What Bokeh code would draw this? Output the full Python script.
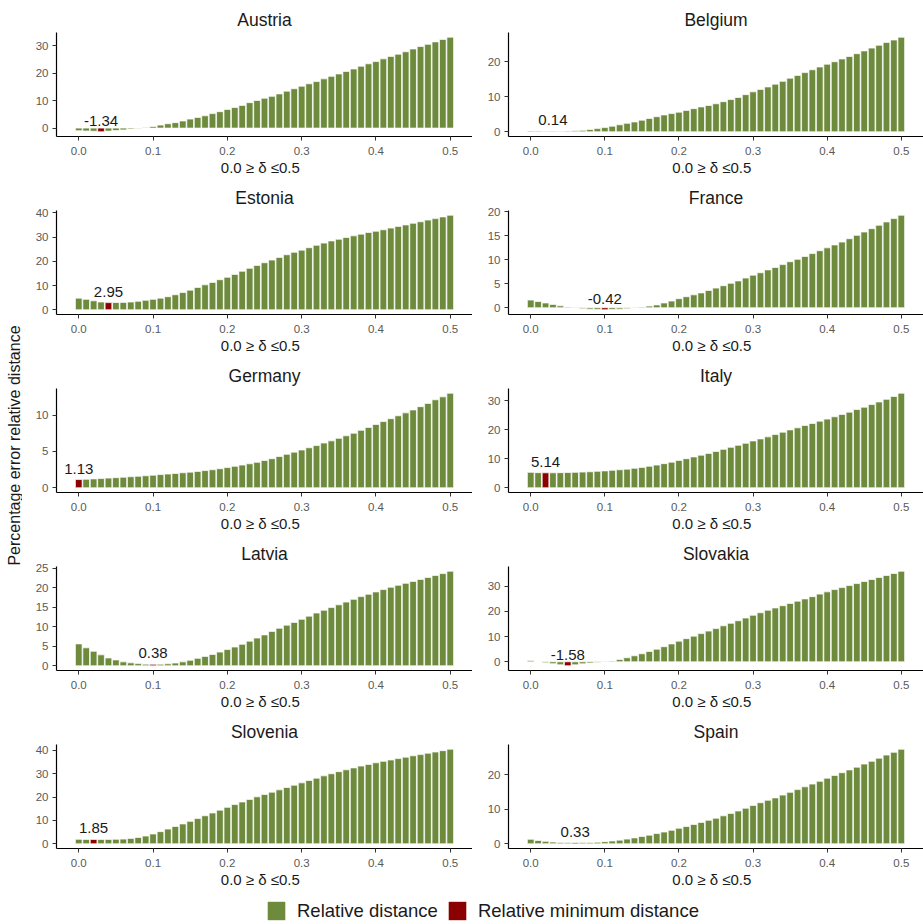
from bokeh.plotting import figure
from bokeh.models import Range1d, FixedTicker, Label, Legend, LegendItem, PrintfTickFormatter
from bokeh.layouts import column, row
from bokeh.embed import file_html
from bokeh.resources import INLINE

FONT = "Liberation Sans"
GREEN = "#6E8B3D"
RED = "#8B0000"

# delta grid (x categories)
delta = [i / 100 for i in range(51)]
xticks = [0.0, 0.1, 0.2, 0.3, 0.4, 0.5]

countries = ["Austria", "Belgium", "Estonia", "France", "Germany",
             "Italy", "Latvia", "Slovakia", "Slovenia", "Spain"]

austria = [-0.95, -1.05, -1.15, -1.34, -1.1, -0.9, -0.65, -0.35, -0.1, 0.25,
           0.6, 1.1, 1.6, 2.0, 2.6, 3.3, 3.9, 4.5, 5.3, 6.0,
           6.8, 7.5, 8.3, 9.3, 10.1, 10.9, 11.6, 12.5, 13.5, 14.4,
           15.3, 16.2, 17.0, 18.0, 18.9, 19.8, 20.7, 21.6, 22.6, 23.5,
           24.3, 25.3, 26.2, 27.0, 27.9, 28.9, 29.8, 30.6, 31.5, 32.4, 33.2]
belgium = [0.25, 0.2, 0.17, 0.14, 0.15, 0.2, 0.28, 0.4, 0.65, 0.9,
           1.2, 1.6, 2.0, 2.4, 2.8, 3.3, 3.8, 4.3, 4.8, 5.2,
           5.6, 6.1, 6.6, 7.1, 7.5, 8.0, 8.6, 9.2, 9.8, 10.6,
           11.4, 12.1, 12.8, 13.6, 14.4, 15.3, 16.1, 16.9, 17.7, 18.5,
           19.3, 20.0, 20.8, 21.5, 22.3, 23.1, 23.9, 24.7, 25.5, 26.2, 27.0]
estonia = [4.8, 4.3, 3.7, 3.2, 2.95, 3.0, 3.05, 3.2, 3.5, 3.9,
           4.3, 4.8, 5.4, 6.2, 7.1, 8.1, 9.2, 10.3, 11.3, 12.4,
           13.4, 14.6, 15.9, 17.1, 18.3, 19.4, 20.5, 21.6, 22.7, 23.7,
           24.6, 25.6, 26.6, 27.5, 28.4, 29.1, 29.8, 30.5, 31.2, 31.9,
           32.4, 33.0, 33.7, 34.4, 35.0, 35.7, 36.3, 37.0, 37.6, 38.3, 39.0]
france = [1.6, 1.3, 1.0, 0.7, 0.4, 0.15, -0.05, -0.2, -0.3, -0.38,
          -0.42, -0.38, -0.3, -0.2, -0.05, 0.15, 0.35, 0.6, 1.0, 1.4,
          1.9, 2.3, 2.7, 3.1, 3.6, 4.1, 4.6, 5.1, 5.6, 6.2,
          6.8, 7.3, 7.9, 8.4, 9.0, 9.6, 10.1, 10.7, 11.3, 11.9,
          12.5, 13.1, 13.7, 14.4, 15.1, 15.8, 16.5, 17.2, 17.9, 18.6, 19.3]
germany = [1.13, 1.17, 1.22, 1.27, 1.33, 1.39, 1.45, 1.52, 1.58, 1.65,
           1.73, 1.81, 1.89, 1.97, 2.06, 2.15, 2.25, 2.36, 2.48, 2.62,
           2.78, 2.95, 3.12, 3.3, 3.5, 3.75, 4.0, 4.3, 4.6, 4.9,
           5.2, 5.5, 5.8, 6.15, 6.45, 6.8, 7.15, 7.5, 7.9, 8.3,
           8.7, 9.1, 9.5, 9.9, 10.3, 10.7, 11.15, 11.6, 12.1, 12.5, 13.0]
italy = [5.3, 5.2, 5.14, 5.15, 5.2, 5.25, 5.3, 5.4, 5.5, 5.65,
         5.8, 6.0, 6.2, 6.4, 6.7, 7.0, 7.4, 7.8, 8.3, 8.8,
         9.4, 10.0, 10.6, 11.2, 11.8, 12.5, 13.2, 13.9, 14.6, 15.3,
         16.1, 16.8, 17.5, 18.3, 19.1, 19.9, 20.6, 21.4, 22.1, 22.9,
         23.6, 24.4, 25.2, 26.0, 26.9, 27.7, 28.6, 29.5, 30.4, 31.4, 32.5]
latvia = [5.6, 4.6, 3.7, 2.8, 2.0, 1.5, 1.0, 0.75, 0.55, 0.42,
          0.38, 0.4, 0.5, 0.7, 1.0, 1.4, 1.9, 2.4, 2.9, 3.5,
          4.15, 4.8, 5.5, 6.3, 7.1, 7.9, 8.8, 9.6, 10.4, 11.1,
          11.9, 12.7, 13.5, 14.2, 14.9, 15.6, 16.3, 17.0, 17.7, 18.3,
          18.9, 19.5, 20.1, 20.6, 21.1, 21.6, 22.1, 22.6, 23.1, 23.6, 24.2]
slovakia = [0.5, 0.05, -0.4, -0.75, -1.2, -1.58, -1.2, -0.8, -0.5, -0.3,
            -0.05, 0.3, 0.9, 1.6, 2.4, 3.2, 4.1, 5.0, 6.0, 7.1,
            8.2, 9.2, 10.2, 11.2, 12.2, 13.2, 14.3, 15.3, 16.3, 17.4,
            18.5, 19.5, 20.5, 21.4, 22.3, 23.2, 24.1, 25.0, 25.9, 26.9,
            27.8, 28.7, 29.5, 30.3, 31.1, 31.9, 32.7, 33.5, 34.3, 35.1, 36.0]
slovenia = [1.9, 1.88, 1.85, 1.86, 1.88, 1.92, 2.0, 2.3, 2.7, 3.3,
            4.2, 5.2, 6.3, 7.4, 8.5, 9.6, 10.8, 12.0, 13.2, 14.4,
            15.6, 16.8, 17.9, 19.0, 20.1, 21.1, 22.1, 23.1, 24.1, 25.1,
            26.1, 27.1, 28.1, 29.1, 30.0, 30.9, 31.7, 32.5, 33.3, 34.0,
            34.7, 35.3, 35.9, 36.5, 37.1, 37.7, 38.2, 38.8, 39.3, 39.9, 40.5]
spain = [1.3, 0.95, 0.7, 0.5, 0.4, 0.35, 0.33, 0.34, 0.38, 0.45,
         0.6, 0.8, 1.05, 1.35, 1.7, 2.1, 2.5, 2.95, 3.4, 3.9,
         4.5, 5.0, 5.6, 6.2, 6.8, 7.4, 8.1, 8.8, 9.5, 10.3,
         11.1, 11.9, 12.6, 13.3, 14.1, 14.9, 15.7, 16.5, 17.3, 18.1,
         19.0, 19.8, 20.6, 21.4, 22.2, 23.1, 23.9, 24.8, 25.7, 26.5, 27.4]

series = [austria, belgium, estonia, france, germany,
          italy, latvia, slovakia, slovenia, spain]

yticks = [[0, 10, 20, 30], [0, 10, 20], [0, 10, 20, 30, 40], [0, 5, 10, 15, 20],
          [0, 5, 10], [0, 10, 20, 30], [0, 5, 10, 15, 20, 25], [0, 10, 20, 30],
          [0, 10, 20, 30, 40], [0, 10, 20]]

legend_labels = ["Relative distance", "Relative minimum distance"]

BAR_W = 0.009


def panel(name, vals, ticks, left):
    lo = min(0, min(vals))
    hi = max(0, max(vals))
    pad = 0.05 * (hi - lo)
    xlo = delta[0] - BAR_W / 2
    xhi = delta[-1] + BAR_W / 2
    xpad = 0.05 * (xhi - xlo)
    p = figure(width=450 if left else 451, height=178,
               output_backend="svg", toolbar_location=None, tools="",
               x_range=Range1d(xlo - xpad, xhi + xpad),
               y_range=Range1d(lo - pad, hi + pad),
               min_border_left=34 if left else 36, min_border_right=0,
               min_border_top=32, min_border_bottom=42)
    p.outline_line_color = None
    p.xgrid.visible = False
    p.ygrid.visible = False
    p.background_fill_color = "white"

    p.title.text = name
    p.title.align = "center"
    p.title.text_font = FONT
    p.title.text_font_size = "17.5px"
    p.title.text_font_style = "normal"
    p.title.text_color = "#1a1a1a"
    p.title.standoff = 5

    imin = min(range(len(vals)), key=lambda i: vals[i])
    gx = [d for i, d in enumerate(delta) if i != imin]
    gy = [v for i, v in enumerate(vals) if i != imin]
    p.vbar(x=gx, top=gy, bottom=0, width=BAR_W, fill_color=GREEN,
           line_color="white", line_width=0.7)
    p.vbar(x=[delta[imin]], top=[vals[imin]], bottom=0, width=BAR_W,
           fill_color=RED, line_color="white", line_width=0.7)
    p.add_layout(Label(x=delta[imin], y=vals[imin], text="%.2f" % vals[imin],
                       text_font=FONT, text_font_size="15px", text_color="#1a1a1a",
                       text_align="center", text_baseline="bottom", y_offset=6))

    p.xaxis.ticker = FixedTicker(ticks=xticks)
    p.xaxis.formatter = PrintfTickFormatter(format="%.1f")
    p.yaxis.ticker = FixedTicker(ticks=ticks)
    for ax in (p.xaxis[0], p.yaxis[0]):
        ax.axis_line_color = "black"
        ax.axis_line_width = 1.2
        ax.major_tick_line_color = "#333333"
        ax.major_tick_out = 4
        ax.major_tick_in = 0
        ax.minor_tick_line_color = None
        ax.major_label_text_font = FONT
        ax.major_label_text_font_size = "11.5px"
        ax.major_label_text_color = "#595959"
        ax.major_label_standoff = 4
    p.xaxis.major_label_standoff = 6
    p.xaxis.axis_label = "0.0 \u2265  \u03b4  \u22640.5"
    p.xaxis.axis_label_text_font = FONT
    p.xaxis.axis_label_text_font_size = "15px"
    p.xaxis.axis_label_text_font_style = "normal"
    p.xaxis.axis_label_text_color = "#1a1a1a"
    p.xaxis.axis_label_standoff = 1
    return p


figs = [panel(n, v, t, i % 2 == 0) for i, (n, v, t) in enumerate(zip(countries, series, yticks))]
grid = column(*[row(figs[i], figs[i + 1]) for i in range(0, len(figs), 2)])

ylab = figure(width=22, height=890, output_backend="svg", toolbar_location=None, tools="",
              x_axis_location=None, y_axis_location=None, min_border=0,
              x_range=Range1d(0, 1), y_range=Range1d(0, 1))
ylab.outline_line_color = None
ylab.grid.visible = False
ylab.add_layout(Label(x=14, y=445, x_units="screen", y_units="screen",
                      text="Percentage error relative distance", angle=90, angle_units="deg",
                      text_align="center", text_baseline="middle", text_font=FONT,
                      text_font_size="16px", text_color="#1a1a1a"))

# legend strip: swatch renderers sit outside the visible range, only their legend glyphs show
lf = figure(width=923, height=34, output_backend="svg", toolbar_location=None, tools="",
            x_axis_location=None, y_axis_location=None, min_border=0,
            x_range=Range1d(0, 1), y_range=Range1d(0, 1))
lf.outline_line_color = None
lf.grid.visible = False
g1 = lf.vbar(x=[5], top=[5], bottom=4, width=0.1, fill_color=GREEN, line_color=None)
g2 = lf.vbar(x=[5], top=[5], bottom=4, width=0.1, fill_color=RED, line_color=None)
leg = Legend(items=[LegendItem(label=legend_labels[0], renderers=[g1]),
                    LegendItem(label=legend_labels[1], renderers=[g2])],
             orientation="horizontal", location=(265, 2), glyph_width=22, glyph_height=23,
             label_text_font=FONT, label_text_font_size="18.5px", label_text_color="#1a1a1a",
             label_standoff=10, spacing=8, padding=0, margin=0,
             border_line_color=None, background_fill_alpha=0)
lf.add_layout(leg)

layout = column(row(ylab, grid), lf)

open("out.html", "w").write(file_html(layout, INLINE))
